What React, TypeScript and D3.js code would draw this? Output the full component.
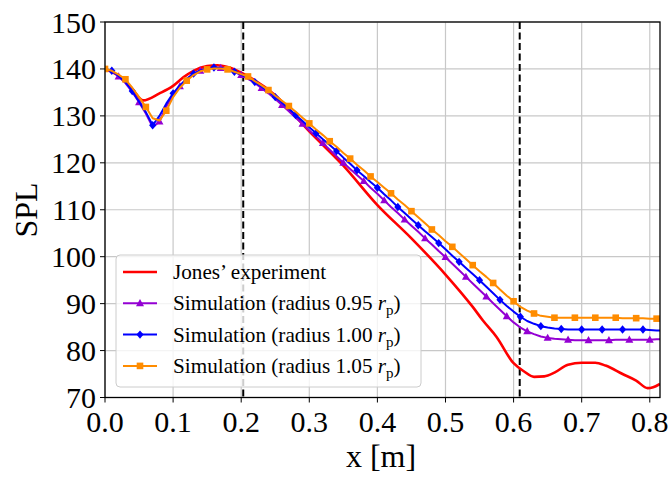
import React from "react";
import * as d3 from "d3";

const W = 672, H = 477;
const M = { left: 105, right: 660, top: 22, bottom: 397.5 };

const xTicks = [0, 0.1, 0.2, 0.3, 0.4, 0.5, 0.6, 0.7, 0.8];
const yTicks = [70, 80, 90, 100, 110, 120, 130, 140, 150];
const dashedX = [0.203, 0.609];

// simulation grid x (0.01 step) + final point
const simX = [0,0.01,0.02,0.03,0.04,0.05,0.06,0.07,0.08,0.09,0.1,0.11,0.12,0.13,0.14,0.15,0.16,0.17,0.18,0.19,0.2,0.21,0.22,0.23,0.24,0.25,0.26,0.27,0.28,0.29,0.3,0.31,0.32,0.33,0.34,0.35,0.36,0.37,0.38,0.39,0.4,0.41,0.42,0.43,0.44,0.45,0.46,0.47,0.48,0.49,0.5,0.51,0.52,0.53,0.54,0.55,0.56,0.57,0.58,0.59,0.6,0.61,0.62,0.63,0.64,0.65,0.66,0.67,0.68,0.69,0.7,0.71,0.72,0.73,0.74,0.75,0.76,0.77,0.78,0.79,0.8,0.81,0.815];

const sim095 = [140.0,139.5,138.4,137.0,135.1,132.9,130.5,127.6,128.8,132.0,134.4,136.3,137.8,138.9,139.6,140.1,140.3,140.2,139.9,139.4,138.7,137.9,137.0,135.9,134.8,133.6,132.3,131.0,129.6,128.3,126.9,125.6,124.2,122.8,121.4,120.0,118.7,117.4,116.1,114.7,113.4,112.0,110.6,109.3,107.9,106.6,105.3,103.9,102.6,101.2,99.9,98.5,97.1,95.7,94.3,92.9,91.5,90.1,88.7,87.3,86.0,84.9,84.1,83.5,83.0,82.7,82.5,82.4,82.3,82.2,82.2,82.2,82.2,82.2,82.2,82.3,82.3,82.3,82.3,82.3,82.3,82.4,82.4];
const sim100 = [140.0,139.6,138.5,137.2,135.3,133.0,130.8,128.0,130.0,132.6,134.8,136.5,137.9,139.0,139.7,140.1,140.3,140.2,139.9,139.4,138.8,138.1,137.2,136.2,135.2,134.0,132.8,131.5,130.2,128.9,127.6,126.3,125.0,123.8,122.5,121.1,119.8,118.4,117.2,115.9,114.7,113.3,112.0,110.6,109.3,108.0,106.7,105.4,104.2,102.9,101.6,100.2,98.9,97.6,96.3,95.0,93.6,92.2,90.8,89.5,88.3,87.2,86.3,85.7,85.2,84.9,84.7,84.6,84.5,84.5,84.5,84.5,84.5,84.5,84.5,84.5,84.5,84.5,84.5,84.5,84.4,84.3,84.3];
const sim105 = [140.0,139.6,138.8,137.8,136.0,134.0,131.9,129.5,129.0,131.1,134.0,136.0,137.5,138.7,139.5,139.9,140.1,140.1,139.9,139.4,138.9,138.4,137.4,136.5,135.5,134.3,133.2,132.1,130.9,129.6,128.4,127.1,125.9,124.6,123.4,122.1,120.9,119.6,118.4,117.1,115.9,114.7,113.5,112.2,111.0,109.7,108.4,107.1,105.8,104.6,103.3,102.1,100.8,99.5,98.2,96.9,95.7,94.4,93.0,91.7,90.5,89.3,88.5,87.9,87.4,87.2,87.0,87.0,87.0,87.0,87.0,87.0,87.0,87.0,87.0,87.0,86.9,86.9,86.9,86.9,86.8,86.8,86.8];

const jonesX = [0,0.02,0.04,0.056,0.08,0.1,0.115,0.13,0.15,0.165,0.18,0.2,0.25,0.3,0.35,0.4,0.45,0.5,0.54,0.555,0.575,0.6,0.615,0.63,0.645,0.66,0.68,0.7,0.72,0.735,0.76,0.78,0.797,0.805,0.815];
const jonesY = [140,138.5,135.7,133.3,134.8,136.4,138.2,139.6,140.6,140.8,140.4,139.2,134.4,126.7,119.4,111.0,103.9,96.2,89.3,86.4,82.9,77.3,75.6,74.4,74.5,75.3,77.0,77.4,77.4,76.8,75.0,73.6,72.0,72.2,72.9];

const series = [
  { name: "sim095", ys: sim095, color: "#9400d3", marker: "tri", offset: 2 },
  { name: "sim100", ys: sim100, color: "#0000ff", marker: "dia", offset: 1 },
  { name: "sim105", ys: sim105, color: "#ff8c00", marker: "sq", offset: 0 },
];

const FONT = "'Liberation Serif', 'Times New Roman', serif";

function Marker({ type, x, y, color }: { type: string; x: number; y: number; color: string }) {
  if (type === "tri") {
    const s = 4.2;
    return <path d={`M${x},${y - s}L${x + s * 0.95},${y + s * 0.7}L${x - s * 0.95},${y + s * 0.7}Z`} fill={color} />;
  }
  if (type === "dia") {
    const s = 4.2;
    return <path d={`M${x},${y - s}L${x + s * 0.85},${y}L${x},${y + s}L${x - s * 0.85},${y}Z`} fill={color} />;
  }
  const s = 3.3;
  return <rect x={x - s} y={y - s} width={2 * s} height={2 * s} fill={color} />;
}

export default function App() {
  const x = d3.scaleLinear().domain([0, 0.815]).range([M.left, M.right]);
  const y = d3.scaleLinear().domain([70, 150]).range([M.bottom, M.top]);
  const line = d3.line<[number, number]>().x((d) => x(d[0])).y((d) => y(d[1]));
  const smooth = d3.line<[number, number]>().x((d) => x(d[0])).y((d) => y(d[1])).curve(d3.curveMonotoneX);

  const jones = jonesX.map((v, i) => [v, jonesY[i]] as [number, number]);

  const legendItems = [
    { label: "Jones’ experiment", color: "#ff0000", marker: null as string | null, w: 2.6 },
    { label: "0.95", color: "#9400d3", marker: "tri", w: 2 },
    { label: "1.00", color: "#0000ff", marker: "dia", w: 2 },
    { label: "1.05", color: "#ff8c00", marker: "sq", w: 2 },
  ];

  return (
    <svg width={W} height={H} style={{ position: "absolute", left: 0, top: 0, background: "#fff" }} fontFamily={FONT}>
      <defs>
        <clipPath id="plot">
          <rect x={M.left} y={M.top} width={M.right - M.left} height={M.bottom - M.top} />
        </clipPath>
      </defs>
      {xTicks.map((t) => (
        <line key={"gx" + t} x1={x(t)} x2={x(t)} y1={M.top} y2={M.bottom} stroke="#c8c8c8" strokeWidth={1.2} />
      ))}
      {yTicks.map((t) => (
        <line key={"gy" + t} x1={M.left} x2={M.right} y1={y(t)} y2={y(t)} stroke="#c8c8c8" strokeWidth={1.2} />
      ))}
      {dashedX.map((d) => (
        <line key={"d" + d} x1={x(d)} x2={x(d)} y1={M.top} y2={M.bottom} stroke="#000" strokeWidth={2} strokeDasharray="7,3.5" />
      ))}
      <g clipPath="url(#plot)">
        <path d={smooth(jones) || ""} fill="none" stroke="#ff0000" strokeWidth={2.6} strokeLinejoin="round" />
        {series.map((s) => {
          const pts = simX.map((v, i) => [v, s.ys[i]] as [number, number]);
          return (
            <g key={s.name}>
              <path d={line(pts) || ""} fill="none" stroke={s.color} strokeWidth={2} strokeLinejoin="round" />
              {pts.map((p, i) =>
                i < 82 && i % 3 === s.offset ? <Marker key={i} type={s.marker} x={x(p[0])} y={y(p[1])} color={s.color} /> : null
              )}
            </g>
          );
        })}
      </g>
      <rect x={M.left} y={M.top} width={M.right - M.left} height={M.bottom - M.top} fill="none" stroke="#000" strokeWidth={1.3} />
      {xTicks.map((t) => (
        <g key={"tx" + t}>
          <line x1={x(t)} x2={x(t)} y1={M.bottom} y2={M.bottom + 5} stroke="#000" strokeWidth={1} />
          <text x={x(t)} y={M.bottom + 34} textAnchor="middle" fontSize={30}>{t.toFixed(1)}</text>
        </g>
      ))}
      {yTicks.map((t) => (
        <g key={"ty" + t}>
          <line x1={M.left - 5} x2={M.left} y1={y(t)} y2={y(t)} stroke="#000" strokeWidth={1} />
          <text x={M.left - 9} y={y(t) + 10.5} textAnchor="end" fontSize={30}>{t}</text>
        </g>
      ))}
      <text x={381} y={467} textAnchor="middle" fontSize={32}>x [m]</text>
      <text transform={`translate(37,210) rotate(-90)`} textAnchor="middle" fontSize={32}>SPL</text>
      <rect x={116} y={255} width={305} height={132} rx={4} fill="#fff" fillOpacity={0.8} stroke="#cccccc" strokeWidth={1} />
      {legendItems.map((it, i) => {
        const cy = 272 + i * 31.3;
        return (
          <g key={i}>
            <line x1={123} x2={157} y1={cy} y2={cy} stroke={it.color} strokeWidth={it.w} />
            {it.marker && <Marker type={it.marker} x={140} y={cy} color={it.color} />}
            <text x={173} y={cy + 7} fontSize={21.2}>
              {i === 0 ? (
                it.label
              ) : (
                <>
                  {"Simulation (radius " + it.label + " "}
                  <tspan fontStyle="italic">r</tspan>
                  <tspan fontSize={15} dy={5}>p</tspan>
                  <tspan dy={-5}>)</tspan>
                </>
              )}
            </text>
          </g>
        );
      })}
    </svg>
  );
}
